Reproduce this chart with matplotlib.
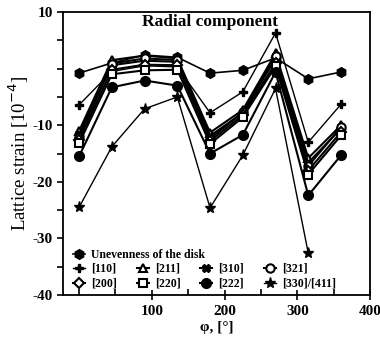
import numpy as np
import matplotlib.pyplot as plt
from matplotlib.ticker import MultipleLocator

plt.rcParams['font.family'] = ['Liberation Serif', 'DejaVu Serif']

## data
phi = [0, 45, 90, 135, 180, 225, 270, 315, 360]

uneven = [-0.8, 1.0, 2.4, 2.0, -0.8, -0.3, 1.9, -1.8, -0.6]
s110 = [-6.4, -0.5, 0.5, 0.3, -7.8, -4.1, 6.3, -13.0, -6.3]
s211 = [-11.0, 1.5, 2.3, 1.8, -11.3, -7.3, 2.7, -15.8, -10.0]
s310 = [-11.6, 0.6, 1.4, 1.2, -11.9, -7.8, 1.8, -16.6, -10.6]
s321 = [-12.1, 0.9, 1.8, 1.5, -12.4, -7.7, 2.2, -17.2, -10.3]
s200 = [-12.6, -0.2, 0.7, 0.6, -12.8, -8.2, 1.0, -18.0, -11.2]
s220 = [-13.2, -1.0, -0.3, -0.2, -13.3, -8.6, 0.4, -18.7, -11.8]
s222 = [-15.5, -3.3, -2.1, -3.0, -15.0, -11.7, -0.6, -22.4, -15.3]
s330 = [-24.5, -13.8, -7.1, -5.0, -24.6, -15.3, -3.5, -32.6, np.nan]

fig = plt.figure(figsize=(3.8, 3.48), dpi=100)
ax = fig.add_axes([0.166, 0.152, 0.808, 0.8135])

k = 'black'
h_unev, = ax.plot(phi, uneven, color=k, lw=1.2, marker='h', ms=7, mfc=k)
h110, = ax.plot(phi, s110, color=k, lw=1.0, marker='P', ms=6, mfc=k)
h211, = ax.plot(phi, s211, color=k, lw=1.5, marker='^', ms=6, mfc='white', mew=1.5)
h310, = ax.plot(phi, s310, color=k, lw=1.5, marker='X', ms=6, mfc=k)
h321, = ax.plot(phi, s321, color=k, lw=1.5, marker='o', ms=6, mfc='white', mew=1.5)
h200, = ax.plot(phi, s200, color=k, lw=1.5, marker='D', ms=5, mfc='white', mew=1.5)
h220, = ax.plot(phi, s220, color=k, lw=1.5, marker='s', ms=6, mfc='white', mew=1.5)
h222, = ax.plot(phi, s222, color=k, lw=1.5, marker='o', ms=7, mfc=k)
h330, = ax.plot(phi, s330, color=k, lw=1.0, marker='*', ms=8, mfc=k)

ax.set_xlim(-22, 400)
ax.set_ylim(-40, 10)
ax.xaxis.set_minor_locator(MultipleLocator(50))
ax.yaxis.set_minor_locator(MultipleLocator(5))
ax.set_xticks([100, 200, 300, 400])
ax.set_yticks([-40, -30, -20, -10, 0, 10])
ax.set_yticklabels(['-40', '-30', '-20', '-10', '', '10'])
ax.tick_params(axis='x', which='major', direction='inout', length=7, width=1.2)
ax.tick_params(axis='x', which='minor', direction='in', length=4, width=1.2)
ax.tick_params(axis='y', which='both', direction='out', length=4, width=1.2)
ax.tick_params(labelsize=11)
for lab in ax.get_xticklabels() + ax.get_yticklabels():
    lab.set_fontweight('bold')
for sp in ax.spines.values():
    sp.set_linewidth(1.3)

ax.set_xlabel('φ, [°]', fontsize=11, fontweight='bold', labelpad=2)
ax.set_ylabel('Lattice strain [10$^{-4}$]', fontsize=13.5, labelpad=1)
ax.text(180, 8.2, 'Radial component', ha='center', va='center',
        fontsize=12.5, fontweight='bold')

lp = {'weight': 'bold', 'size': 8.5}
leg1 = ax.legend([h_unev], ['Unevenness of the disk'], loc='upper left',
                 bbox_to_anchor=(0.014, 0.184), frameon=False,
                 handlelength=1.0, handletextpad=0.5, borderpad=0, prop=lp)
ax.add_artist(leg1)
ax.legend([h110, h200, h211, h220, h310, h222, h321, h330],
          ['[110]', '[200]', '[211]', '[220]', '[310]', '[222]', '[321]', '[330]/[411]'],
          ncol=4, loc='upper left', bbox_to_anchor=(0.014, 0.135), frameon=False,
          handlelength=1.0, handletextpad=0.5, columnspacing=1.7, labelspacing=0.25,
          borderpad=0, prop=lp)

fig.savefig('out.png', dpi=100)
